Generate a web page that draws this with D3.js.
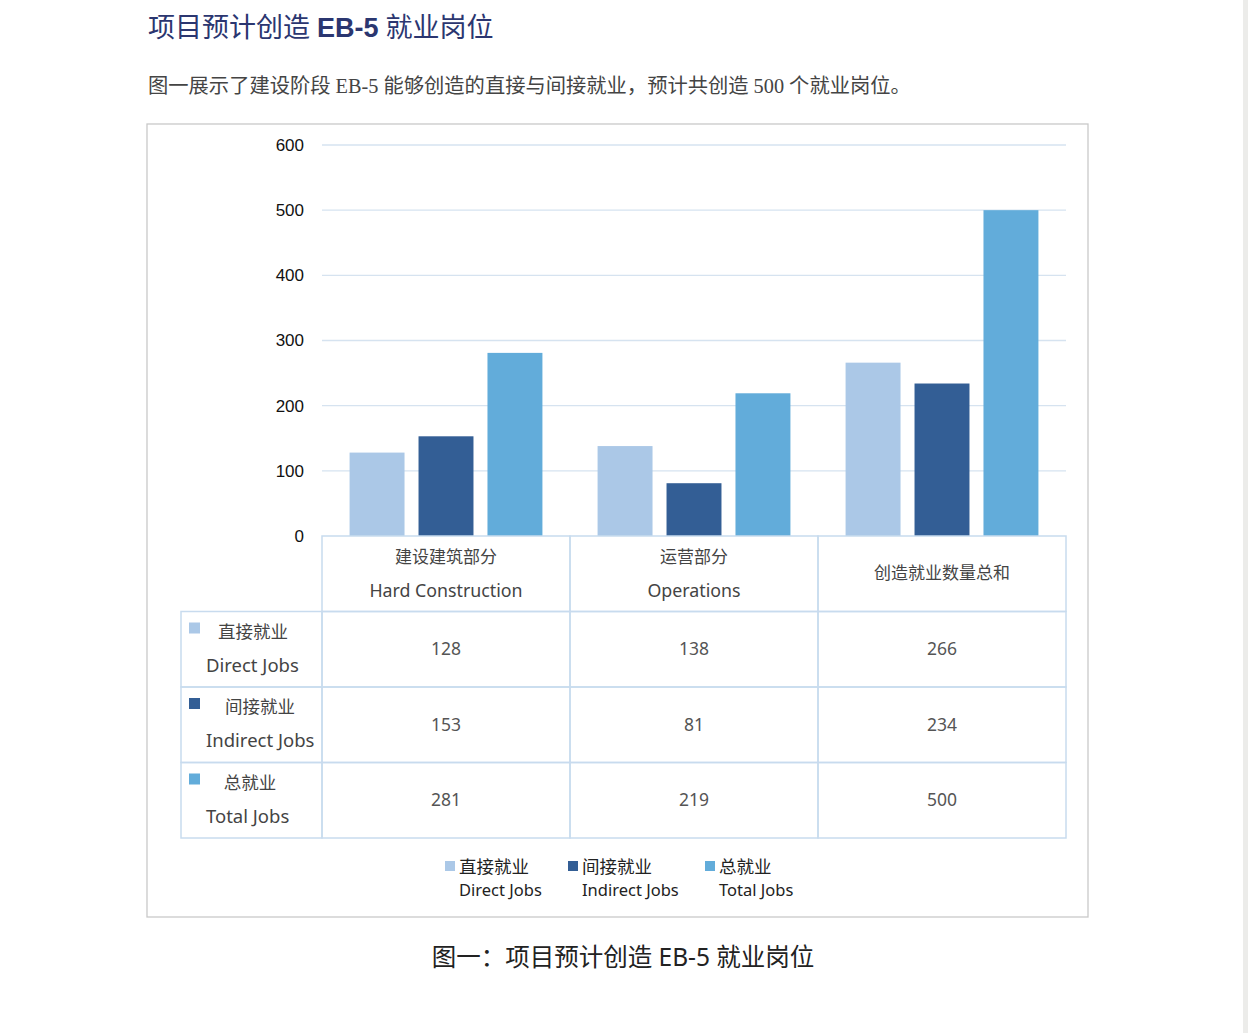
<!DOCTYPE html>
<meta charset="utf-8">
<style>
body { margin: 0; background: #fff; }
svg { display: block; }
text { font-family: "Noto Sans", "Noto Sans CJK SC", sans-serif; }
.grid line { stroke: #d6e3f0; stroke-width: 1.3; }
.ytick { font-family: "Liberation Sans", Arial, sans-serif; font-size: 17px; fill: #111; }
.cell { fill: none; stroke: #c8dbee; stroke-width: 1.5; }
</style>
<body>
<script src="https://cdn.jsdelivr.net/npm/d3@7"></script>
<script>
var categories = ["建设建筑部分|Hard Construction", "运营部分|Operations", "创造就业数量总和"];
var seriesNames = ["直接就业|Direct Jobs", "间接就业|Indirect Jobs", "总就业|Total Jobs"];
var directJobs = [128, 138, 266];
var indirectJobs = [153, 81, 234];
var totalJobs = [281, 219, 500];
var yTicks = [0, 100, 200, 300, 400, 500, 600];
var colors = ["#abc8e7", "#335e95", "#62acda"];

var series = [directJobs, indirectJobs, totalJobs];

var svg = d3.select("body").append("svg")
    .attr("width", 1248)
    .attr("height", 1033);

// page edge strip
svg.append("rect").attr("x", 1243).attr("y", 0).attr("width", 5).attr("height", 1033).attr("fill", "#ececea");

// title
var title = svg.append("text").attr("x", 148).attr("y", 37)
    .attr("font-size", 27).attr("fill", "#2b3670");
title.append("tspan").text("项目预计创造 ");
title.append("tspan").attr("font-weight", "bold").attr("font-family", "Liberation Sans, Arial, sans-serif").text("EB-5");
title.append("tspan").text(" 就业岗位");

svg.append("text").attr("x", 148).attr("y", 93)
    .attr("font-size", 20.3).attr("fill", "#444")
    .style("font-family", "'Liberation Serif', 'Noto Sans CJK SC', serif")
    .text("图一展示了建设阶段 EB-5 能够创造的直接与间接就业，预计共创造 500 个就业岗位。");

// chart frame
svg.append("rect").attr("x", 147).attr("y", 124).attr("width", 941).attr("height", 793)
    .attr("fill", "#fff").attr("stroke", "#c9c9c9").attr("stroke-width", 1.3);

var plotL = 322, plotR = 1066, plotT = 145, plotB = 536;

var x = d3.scaleBand().domain(d3.range(categories.length)).range([plotL, plotR]).paddingInner(0).paddingOuter(0);
var y = d3.scaleLinear().domain([0, 600]).range([plotB, plotT]);
var inner = d3.scaleBand().domain(d3.range(series.length)).range([0, x.bandwidth()])
    .paddingInner(0.203).paddingOuter(0.4);

// grid
svg.append("g").attr("class", "grid")
  .selectAll("line").data(yTicks.filter(function(d) { return d > 0; }))
  .enter().append("line")
    .attr("x1", plotL).attr("x2", plotR)
    .attr("y1", function(d) { return y(d); }).attr("y2", function(d) { return y(d); });

svg.append("g").selectAll("text").data(yTicks).enter().append("text")
    .attr("class", "ytick")
    .attr("x", 304).attr("y", function(d) { return y(d); }).attr("dy", "0.35em")
    .attr("text-anchor", "end")
    .text(function(d) { return d; });

// bars
series.forEach(function(vals, si) {
  svg.append("g").selectAll("rect").data(vals).enter().append("rect")
      .attr("x", function(d, i) { return x(i) + inner(si); })
      .attr("width", inner.bandwidth())
      .attr("y", function(d) { return y(d); })
      .attr("height", function(d) { return y(0) - y(d); })
      .attr("fill", colors[si]);
});

// data table
var rowH = 75.5, labelLeft = 181;
var rowY = function(r) { return plotB + r * rowH; };

var tbl = svg.append("g");
// header cells
categories.forEach(function(c, i) {
  tbl.append("rect").attr("class", "cell")
    .attr("x", x(i)).attr("y", rowY(0)).attr("width", x.bandwidth()).attr("height", rowH);
  var parts = c.split("|");
  if (parts.length > 1) {
    tbl.append("text").attr("x", x(i) + x.bandwidth() / 2).attr("y", rowY(0) + 27)
      .attr("text-anchor", "middle").attr("font-size", 17).attr("fill", "#444").text(parts[0]);
    tbl.append("text").attr("x", x(i) + x.bandwidth() / 2).attr("y", rowY(0) + 61)
      .attr("text-anchor", "middle").attr("font-size", 17.8).attr("fill", "#444").text(parts[1]);
  } else {
    tbl.append("text").attr("x", x(i) + x.bandwidth() / 2).attr("y", rowY(0) + 43)
      .attr("text-anchor", "middle").attr("font-size", 17).attr("fill", "#444").text(parts[0]);
  }
});

series.forEach(function(vals, si) {
  var ry = rowY(si + 1);
  tbl.append("rect").attr("class", "cell")
    .attr("x", labelLeft).attr("y", ry).attr("width", plotL - labelLeft).attr("height", rowH);
  tbl.append("rect").attr("x", 189).attr("y", ry + 11).attr("width", 11).attr("height", 11).attr("fill", colors[si]);
  var parts = seriesNames[si].split("|");
  tbl.append("text").attr("x", 253 + (si === 1 ? 7 : 0) - (si === 2 ? 3 : 0)).attr("y", ry + 26)
    .attr("text-anchor", "middle").attr("font-size", 17.5).attr("fill", "#444").text(parts[0]);
  tbl.append("text").attr("x", 206).attr("y", ry + 60)
    .attr("font-size", 18.5).attr("fill", "#444").text(parts[1]);
  vals.forEach(function(v, i) {
    tbl.append("rect").attr("class", "cell")
      .attr("x", x(i)).attr("y", ry).attr("width", x.bandwidth()).attr("height", rowH);
    tbl.append("text").attr("x", x(i) + x.bandwidth() / 2).attr("y", ry + rowH / 2).attr("dy", "0.35em")
      .attr("text-anchor", "middle").attr("font-size", 17.5).attr("fill", "#555").text(v);
  });
});

// legend
var legendX = [445, 568, 705];
var lg = svg.append("g");
seriesNames.forEach(function(n, i) {
  var parts = n.split("|");
  lg.append("rect").attr("x", legendX[i]).attr("y", 861).attr("width", 10).attr("height", 10).attr("fill", colors[i]);
  lg.append("text").attr("x", legendX[i] + 14).attr("y", 873).attr("font-size", 17.5).attr("fill", "#222").text(parts[0]);
  lg.append("text").attr("x", legendX[i] + 14).attr("y", 896).attr("font-size", 16.5).attr("fill", "#222").text(parts[1]);
});

// caption
svg.append("text").attr("x", 623).attr("y", 966).attr("text-anchor", "middle")
  .attr("font-size", 24.5).attr("fill", "#222").text("图一：项目预计创造 EB-5 就业岗位");
</script>
</body>
